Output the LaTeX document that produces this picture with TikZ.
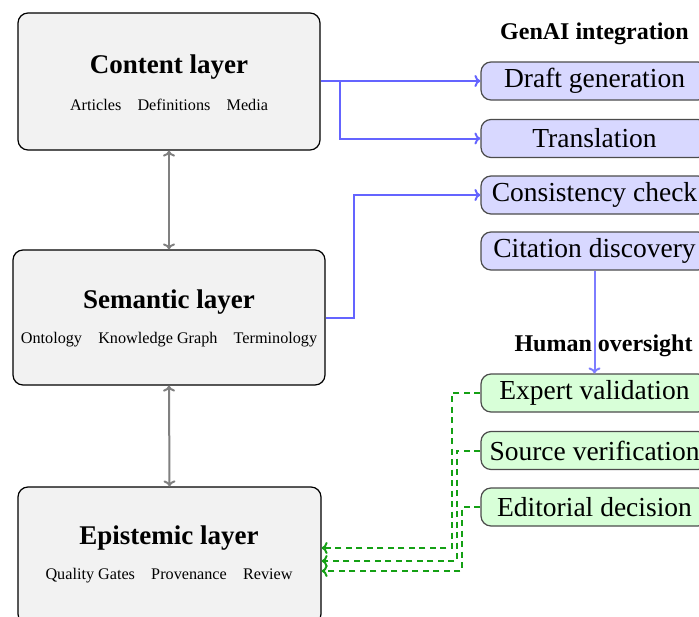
\documentclass[tikz,border=0pt]{standalone}
\usepackage{fontspec}
\setmainfont{Liberation Serif}
\usetikzlibrary{arrows.meta,calc}
\definecolor{layerfill}{RGB}{242,242,242}
\definecolor{aifill}{RGB}{216,216,255}
\definecolor{humfill}{RGB}{216,255,216}
\definecolor{aiblue}{RGB}{100,100,255}
\definecolor{aiblue2}{RGB}{125,125,255}
\definecolor{humgreen}{RGB}{20,160,20}
\definecolor{linkgray}{RGB}{128,128,128}
\tikzset{
  layerbox/.style={draw=black, fill=layerfill, rounded corners=10pt, line width=1.2pt, inner sep=0pt},
  layertitle/.style={font=\fontsize{27}{30}\selectfont\bfseries, inner sep=0pt},
  layersub/.style={font=\fontsize{16.2}{18}\selectfont, inner sep=0pt},
  aibox/.style={draw=black!70, fill=aifill, rounded corners=10pt, line width=1.2pt, minimum width=227pt, minimum height=38pt, inner sep=0pt, font=\fontsize{27.5}{30}\selectfont},
  humbox/.style={aibox, fill=humfill},
  heading/.style={font=\fontsize{24}{28}\selectfont\bfseries, inner sep=0pt},
  blueflow/.style={draw=aiblue, line width=2pt, -{To[length=6pt,width=12pt]}},
  grayflow/.style={draw=linkgray, line width=2pt, {To[length=6pt,width=12pt]}-{To[length=6pt,width=12pt]}},
  greenflow/.style={draw=humgreen, line width=2pt, dash pattern=on 6pt off 4.5pt, -{To[length=6pt,width=12pt]}},
}
\begin{document}
\begin{tikzpicture}[x=1pt,y=-1pt]
\useasboundingbox (0,0) rectangle (699,616);
% layers
\node[layerbox, minimum width=302pt, minimum height=137pt] (content) at (169,81.5) {};
\node[layertitle] (contentT) at (169,67) {Content layer};
\node[layersub] (contentS) at (169,104.5) {Articles\quad Definitions\quad Media};
\node[layerbox, minimum width=312pt, minimum height=135pt] (sem) at (169,317.5) {};
\node[layertitle] (semT) at (169,302) {Semantic layer};
\node[layersub] (semS) at (169,339.5) {Ontology\quad Knowledge Graph\quad Terminology};
\node[layerbox, minimum width=303pt, minimum height=137pt] (epi) at (169.5,555.5) {};
\node[layertitle] (epiT) at (169,538) {Epistemic layer};
\node[layersub] (epiS) at (169,575.5) {Quality Gates\quad Provenance\quad Review};
% headings
\node[heading] (genai) at (594.5,34) {GenAI integration};
\node[heading] (human) at (603.5,346) {Human oversight};
% GenAI boxes
\node[aibox] (draft) at (594.5,81) {Draft generation};
\node[aibox] (trans) at (594.5,138.5) {Translation};
\node[aibox] (cons) at (594.5,195) {Consistency check};
\node[aibox] (cite) at (594.5,251) {Citation discovery};
% Human boxes
\node[humbox] (expert) at (594.5,393) {Expert validation};
\node[humbox] (source) at (594.5,450.5) {Source verification};
\node[humbox] (edit) at (594.5,507) {Editorial decision};
% gray links
\draw[grayflow] (content.south) -- (sem.north);
\draw[grayflow] (sem.south) -- (epi.north);
% blue flows
\coordinate (cbr) at (340,81);
\draw[blueflow] (content.east |- draft.west) -- (draft.west);
\draw[blueflow] (cbr) |- (trans.west);
\coordinate (sbr) at (354,317.5);
\draw[blueflow] (sem.east) -- (sbr) |- (cons.west);
\draw[blueflow, draw=aiblue2] (cite.south) -- (expert.north);
% green feedback
\coordinate (g1) at (452,548);
\coordinate (g2) at (457,561);
\coordinate (g3) at (462,571);
\coordinate (e1) at ($(epi.east)+(0,-7.5)$);
\coordinate (e2) at ($(epi.east)+(0,5.5)$);
\coordinate (e3) at ($(epi.east)+(0,15.5)$);
\draw[greenflow] (expert.west) -| (g1) -- (e1);
\draw[greenflow] (source.west) -| (g2) -- (e2);
\draw[greenflow] (edit.west) -| (g3) -- (e3);
\end{tikzpicture}
\end{document}
